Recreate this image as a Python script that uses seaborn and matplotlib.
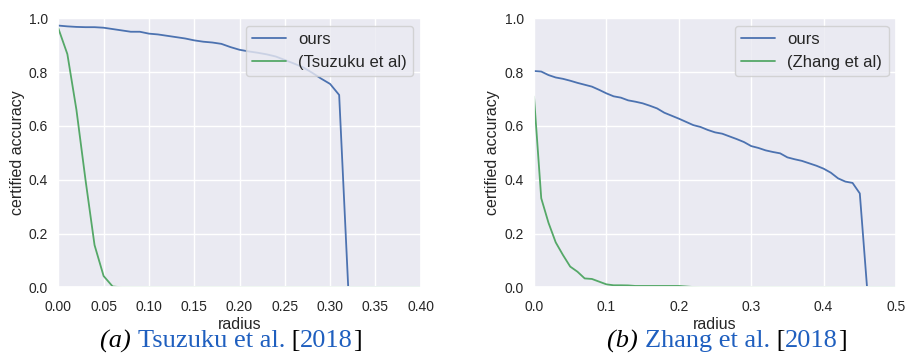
import numpy as np
import pandas as pd
import matplotlib
matplotlib.use("Agg")
import matplotlib.pyplot as plt
import seaborn as sns

# ---------------- data ----------------
radius_a = [0.00, 0.01, 0.02, 0.03, 0.04, 0.05, 0.06, 0.07, 0.08, 0.09,
            0.10, 0.11, 0.12, 0.13, 0.14, 0.15, 0.16, 0.17, 0.18, 0.19,
            0.20, 0.21, 0.22, 0.23, 0.24, 0.25, 0.26, 0.27, 0.28, 0.29,
            0.30, 0.31, 0.32, 0.33, 0.34, 0.35, 0.36, 0.37, 0.38, 0.39, 0.40]
ours_a = [0.973, 0.970, 0.968, 0.967, 0.967, 0.965, 0.960, 0.955, 0.950, 0.950,
          0.943, 0.940, 0.935, 0.930, 0.925, 0.918, 0.913, 0.910, 0.905, 0.893,
          0.883, 0.877, 0.872, 0.866, 0.858, 0.845, 0.832, 0.818, 0.798, 0.776,
          0.756, 0.715, 0.0, 0.0, 0.0, 0.0, 0.0, 0.0, 0.0, 0.0, 0.0]
tsuzuku_a = [0.963, 0.867, 0.660, 0.400, 0.157, 0.042, 0.003, 0.0, 0.0, 0.0,
             0.0, 0.0, 0.0, 0.0, 0.0, 0.0, 0.0, 0.0, 0.0, 0.0,
             0.0, 0.0, 0.0, 0.0, 0.0, 0.0, 0.0, 0.0, 0.0, 0.0,
             0.0, 0.0, 0.0, 0.0, 0.0, 0.0, 0.0, 0.0, 0.0, 0.0, 0.0]

radius_b = [0.00, 0.01, 0.02, 0.03, 0.04, 0.05, 0.06, 0.07, 0.08, 0.09,
            0.10, 0.11, 0.12, 0.13, 0.14, 0.15, 0.16, 0.17, 0.18, 0.19,
            0.20, 0.21, 0.22, 0.23, 0.24, 0.25, 0.26, 0.27, 0.28, 0.29,
            0.30, 0.31, 0.32, 0.33, 0.34, 0.35, 0.36, 0.37, 0.38, 0.39,
            0.40, 0.41, 0.42, 0.43, 0.44, 0.45, 0.46, 0.47, 0.48, 0.49, 0.50]
ours_b = [0.804, 0.802, 0.789, 0.780, 0.775, 0.768, 0.760, 0.753, 0.746, 0.734,
          0.721, 0.710, 0.705, 0.695, 0.690, 0.684, 0.675, 0.665, 0.649, 0.638,
          0.627, 0.615, 0.603, 0.596, 0.585, 0.576, 0.571, 0.561, 0.551, 0.540,
          0.525, 0.518, 0.509, 0.503, 0.498, 0.483, 0.476, 0.470, 0.461, 0.452,
          0.441, 0.426, 0.405, 0.393, 0.388, 0.349, 0.0, 0.0, 0.0, 0.0, 0.0]
zhang_b = [0.709, 0.331, 0.240, 0.167, 0.120, 0.077, 0.058, 0.033, 0.031, 0.021,
           0.011, 0.0075, 0.0075, 0.007, 0.005, 0.005, 0.005, 0.005, 0.005, 0.005,
           0.005, 0.003, 0.001, 0.0, 0.0, 0.0, 0.0, 0.0, 0.0, 0.0,
           0.0, 0.0, 0.0, 0.0, 0.0, 0.0, 0.0, 0.0, 0.0, 0.0,
           0.0, 0.0, 0.0, 0.0, 0.0, 0.0, 0.0, 0.0, 0.0, 0.0, 0.0]

xticks_a = [0.00, 0.05, 0.10, 0.15, 0.20, 0.25, 0.30, 0.35, 0.40]
xticks_b = [0.0, 0.1, 0.2, 0.3, 0.4, 0.5]
yticks = [0.0, 0.2, 0.4, 0.6, 0.8, 1.0]

BLUE = "#4C72B0"
GREEN = "#55A868"
LINK = "#1F5FBF"

sns.set_theme(style="darkgrid")
plt.rcParams["font.family"] = ["Liberation Sans", "DejaVu Sans"]

W, H = 908, 354
fig = plt.figure(figsize=(W / 100, H / 100), dpi=100)

def axrect(x0, x1, ytop, ybot):
    return [x0 / W, 1 - ybot / H, (x1 - x0) / W, (ybot - ytop) / H]

ax1 = fig.add_axes(axrect(58.3, 420.7, 18.3, 287.3))
ax2 = fig.add_axes(axrect(534.0, 896.0, 18.3, 287.3))

df_a = pd.concat([
    pd.DataFrame({"radius": radius_a, "acc": ours_a, "method": "ours"}),
    pd.DataFrame({"radius": radius_a, "acc": tsuzuku_a, "method": "(Tsuzuku et al)"}),
])
df_b = pd.concat([
    pd.DataFrame({"radius": radius_b, "acc": ours_b, "method": "ours"}),
    pd.DataFrame({"radius": radius_b, "acc": zhang_b, "method": "(Zhang et al)"}),
])

sns.lineplot(data=df_a, x="radius", y="acc", hue="method",
             palette=[BLUE, GREEN], ax=ax1, linewidth=1.3)
sns.lineplot(data=df_b, x="radius", y="acc", hue="method",
             palette=[BLUE, GREEN], ax=ax2, linewidth=1.3)

for ax, xt, xl, fmt in [(ax1, xticks_a, 0.40, "{:.2f}"), (ax2, xticks_b, 0.50, "{:.1f}")]:
    ax.set_xlim(0, xl)
    ax.set_ylim(0, 1.0)
    ax.set_xticks(xt)
    ax.set_xticklabels([fmt.format(v) for v in xt])
    ax.set_yticks(yticks)
    ax.set_yticklabels(["{:.1f}".format(v) for v in yticks])
    ax.tick_params(axis="x", labelsize=10, pad=3)
    ax.tick_params(axis="y", labelsize=10, pad=1.3)
    ax.set_xlabel("radius", fontsize=11.5, labelpad=2)
    ax.set_ylabel("certified accuracy", fontsize=11.5, labelpad=3)
    ax.legend(loc="upper right", fontsize=12, title=None,
              handlelength=2.05, handletextpad=0.72, borderpad=0.38,
              labelspacing=0.45, borderaxespad=0.45)

# captions with mixed colors / styles
FAM = ["Liberation Serif", "DejaVu Serif"]

def caption(italic_part, pieces, cx, cy):
    r = fig.canvas.get_renderer()

    def adv(s, style):
        t1 = fig.text(0, 0, "|" + s + "|", fontsize=19, family=FAM, style=style)
        t2 = fig.text(0, 0, "||", fontsize=19, family=FAM, style=style)
        w = t1.get_window_extent(r).width - t2.get_window_extent(r).width
        t1.remove(); t2.remove()
        return w

    w_it = adv(italic_part, "italic")
    full = "".join(s for s, _ in pieces)
    total = w_it + adv(full, "normal")
    x0 = cx - total / 2
    fig.text(x0 / W, 1 - cy / H, italic_part, color="black", style="italic",
             fontsize=19, family=FAM, va="center", ha="left")
    prefix = ""
    for s, color in pieces:
        off = adv(prefix, "normal") if prefix else 0.0
        # ink of the piece starts after its own left bearing: measure it
        t_a = fig.text(0, 0, "|" + s, fontsize=19, family=FAM)
        t_b = fig.text(0, 0, "|", fontsize=19, family=FAM)
        t_c = fig.text(0, 0, s, fontsize=19, family=FAM)
        lead = (t_a.get_window_extent(r).width - t_b.get_window_extent(r).width
                - t_c.get_window_extent(r).width)
        t_a.remove(); t_b.remove(); t_c.remove()
        fig.text((x0 + w_it + off + lead) / W, 1 - cy / H, s, color=color,
                 fontsize=19, family=FAM, va="center", ha="left")
        prefix += s

caption("(a) ", [("Tsuzuku et al.", LINK), (" [", "black"), ("2018", LINK), ("]", "black")],
        231, 341)
caption("(b) ", [("Zhang et al.", LINK), (" [", "black"), ("2018", LINK), ("]", "black")],
        727, 341)

fig.savefig("out.png", dpi=100)
